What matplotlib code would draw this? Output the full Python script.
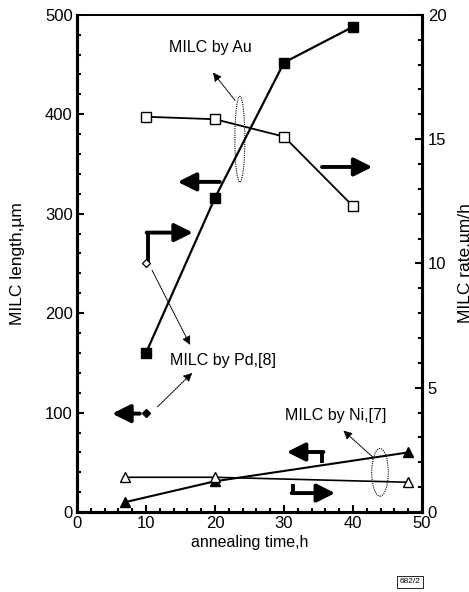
import numpy as np
import matplotlib
matplotlib.use("Agg")
import matplotlib.pyplot as plt
from matplotlib.patches import Ellipse

plt.rcParams['font.family'] = ['Liberation Sans', 'DejaVu Sans']

# data
au_time = [10, 20, 30, 40]
au_length = [160, 316, 452, 488]      # left axis, um
au_rate = [15.9, 15.8, 15.1, 12.3]    # right axis, um/h

pd_time = [10]
pd_length = [100]
pd_rate = [10]

ni_time = [7, 20, 48]
ni_length = [10, 31, 60]
ni_rate = [1.4, 1.4, 1.2]

fig = plt.figure(figsize=(4.69, 5.92), dpi=100)
ax = fig.add_axes([0.164, 0.135, 0.736, 0.840])
ax2 = ax.twinx()

# left axis series
ax.plot(au_time, au_length, '-s', color='k', ms=7, lw=1.6, mfc='k', zorder=3)
ax.plot(pd_time, pd_length, 'D', color='k', ms=4.5, mfc='k', zorder=3)
ax.plot(ni_time, ni_length, '-^', color='k', ms=7, lw=1.5, mfc='k', zorder=3)

# right axis series
ax2.plot(au_time, au_rate, '-s', color='k', ms=7.5, lw=1.3, mfc='white', zorder=3)
ax2.plot(pd_time, pd_rate, 'D', color='k', ms=4.5, mfc='white', mew=0.9, zorder=3)
ax2.plot(ni_time, ni_rate, '-^', color='k', ms=7, lw=1.2, mfc='white', zorder=3)

ax.set_xlim(0, 50)
ax.set_ylim(0, 500)
ax2.set_ylim(0, 20)

ax.set_xticks(np.arange(0, 51, 10))
ax.set_xticks(np.arange(0, 51, 2), minor=True)
ax.set_yticks(np.arange(0, 501, 100))
ax.set_yticks(np.arange(0, 501, 20), minor=True)
ax2.set_yticks(np.arange(0, 21, 5))
ax2.set_yticks(np.arange(0, 21, 1), minor=True)

ax.tick_params(axis='both', which='major', direction='in', length=5, width=1.5,
               labelsize=12, top=False, pad=3)
ax.tick_params(axis='both', which='minor', direction='in', length=3, width=1.5, top=False)
ax2.tick_params(axis='y', which='major', direction='in', length=5, width=1.5,
                labelsize=12, pad=4)
ax2.tick_params(axis='y', which='minor', direction='in', length=3, width=1.5)

for a in (ax, ax2):
    a.spines['left'].set_linewidth(2.2)
    a.spines['bottom'].set_linewidth(2.2)
    a.spines['right'].set_linewidth(2.2)
    a.spines['top'].set_linewidth(1.4)

ax.set_xlabel('annealing time,h', fontsize=11.5)
ax.xaxis.set_label_coords(0.5, -0.047)
ax.set_ylabel('MILC length,\u00b5m', fontsize=12.5)
ax.yaxis.set_label_coords(-0.15, 0.5)
ax2.set_ylabel('MILC rate,\u00b5m/h', fontsize=12.5)
ax2.yaxis.set_label_coords(1.105, 0.5)

# labels
ax.text(19.3, 467, 'MILC by Au', fontsize=11.5, ha='center', va='center')
ax.text(13.5, 152, 'MILC by Pd,[8]', fontsize=11.5, ha='left', va='center')
ax.text(37.5, 97, 'MILC by Ni,[7]', fontsize=11.5, ha='center', va='center')

# dotted ellipses
ax.add_patch(Ellipse((23.6, 375), 1.45, 86, fill=False, ls=(0, (1, 1)), lw=0.8))
ax.add_patch(Ellipse((43.9, 40), 2.4, 48, fill=False, ls=(0, (1, 1)), lw=0.8))

# dotted pointer arrows
dot = dict(arrowstyle='-|>,head_length=0.5,head_width=0.25', lw=0.8,
           linestyle=(0, (1, 1)), color='k', shrinkA=0, shrinkB=0)
ax.annotate('', xy=(19.7, 442), xytext=(22.9, 414), arrowprops=dot)
ax.annotate('', xy=(16.4, 168), xytext=(10.9, 243), arrowprops=dot)
ax.annotate('', xy=(16.7, 140), xytext=(11.7, 106), arrowprops=dot)
ax.annotate('', xy=(38.6, 82), xytext=(42.9, 55), arrowprops=dot)

# thick axis arrows
thick = dict(arrowstyle='-|>,head_length=1.1,head_width=0.55', lw=2.8,
             color='k', shrinkA=0, shrinkB=0)
ax.annotate('', xy=(14.6, 332), xytext=(20.7, 332), arrowprops=thick)
ax.annotate('', xy=(42.8, 347), xytext=(35.5, 347), arrowprops=thick)
ax.annotate('', xy=(5.1, 99), xytext=(9.1, 99), arrowprops=thick)

# bent arrows
ax.plot([10.3, 10.3], [251, 281], color='k', lw=2.8, solid_capstyle='butt')
ax.annotate('', xy=(16.8, 281), xytext=(10.1, 281), arrowprops=thick)
ax.plot([35.5, 35.5], [49, 61], color='k', lw=2.8, solid_capstyle='butt')
ax.annotate('', xy=(30.4, 60.4), xytext=(35.7, 60.4), arrowprops=thick)
ax.plot([31.3, 31.3], [28, 19], color='k', lw=2.8, solid_capstyle='butt')
ax.annotate('', xy=(37.4, 19.1), xytext=(31.1, 19.1), arrowprops=thick)

fig.text(0.875, 0.017, '682/2', fontsize=6, ha='center', va='center',
         bbox=dict(boxstyle='square,pad=0.3', fc='white', ec='k', lw=0.6))

fig.savefig('out.png', dpi=100)
